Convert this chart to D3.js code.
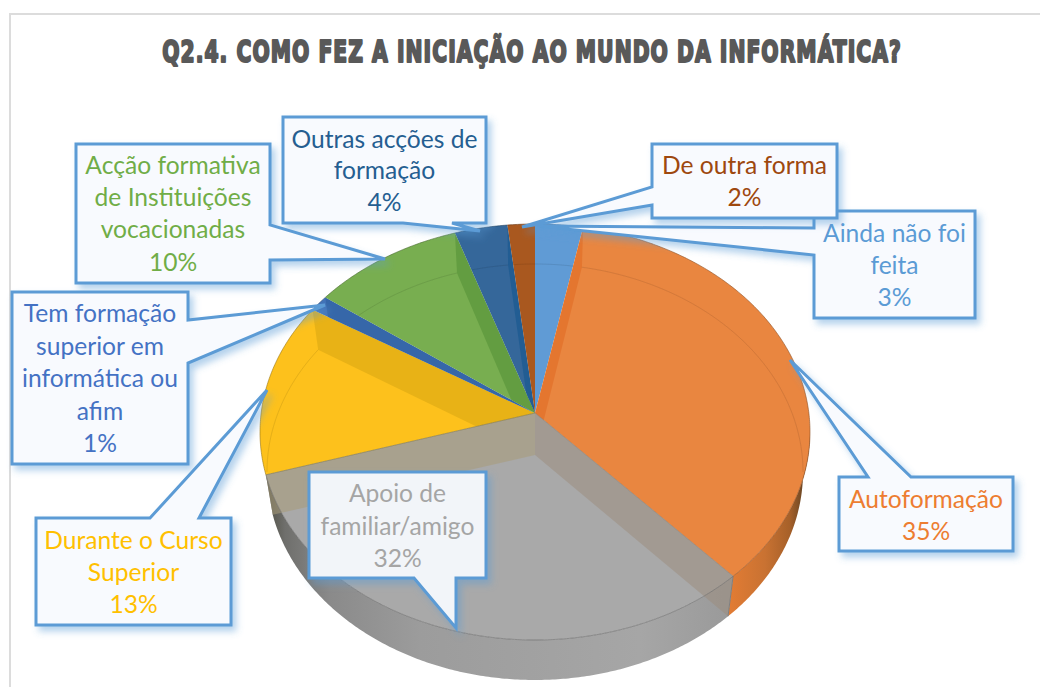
<!DOCTYPE html>
<html><head><meta charset="utf-8">
<script src="https://cdn.jsdelivr.net/npm/d3@7/dist/d3.min.js"></script>
<style>html,body{margin:0;padding:0;background:#fff;overflow:hidden}svg{display:block}</style>
</head><body><svg id="c" width="1040" height="687"></svg>
<script>
const chartTitle = "Q2.4. COMO FEZ A INICIAÇÃO AO MUNDO DA INFORMÁTICA?";
const categories = ["Ainda não foi feita","Autoformação","Apoio de familiar/amigo","Durante o Curso Superior","Tem formação superior em informática ou afim","Acção formativa de Instituições vocacionadas","Outras acções de formação","De outra forma"];
const percentLabels = [3,35,32,13,1,10,4,2];
// apparent share of the ellipse each slice occupies in the tilted picture
const apparentShares = [2.8,34.4,34.5,13.3,1.2,9.1,3.1,1.6];
const labelLines = [["Ainda não foi","feita"],["Autoformação"],["Apoio de","familiar/amigo"],["Durante o Curso","Superior"],["Tem formação","superior em","informática ou","afim"],["Acção formativa","de Instituições","vocacionadas"],["Outras acções de","formação"],["De outra forma"]];
const faceColors = ["#609bd5","#e98640","#a9a9a9","#fdc11c","#4273b8","#78ae50","#35679a","#a9581f"];
const textColors = ["#5b9bd5","#ed7d31","#a5a5a5","#ffc000","#4472c4","#70ad47","#255e91","#9e480e"];

const svg = d3.select("#c");
const defs = svg.append("defs");
const shadow = defs.append("filter").attr("id","sh").attr("x","-20%").attr("y","-20%").attr("width","150%").attr("height","150%");
shadow.append("feDropShadow").attr("dx",4).attr("dy",5).attr("stdDeviation",3.5).attr("flood-color","#5b9bd5").attr("flood-opacity",.45);
function grad(id,stops){const g=defs.append("linearGradient").attr("id",id).attr("gradientUnits","userSpaceOnUse").attr("x1",260).attr("x2",810).attr("y1",0).attr("y2",0);
  stops.forEach(([x,c])=>g.append("stop").attr("offset",(x-260)/550).attr("stop-color",c));}
grad("wallGray",[[266,"#4f4f45"],[285,"#6f6f6c"],[330,"#8a8a8a"],[420,"#9c9c9c"],[640,"#a6a6a6"],[730,"#9a9a9a"]]);
grad("wallOrange",[[729,"#e27c34"],[765,"#c97232"],[790,"#a66029"],[806,"#5f4123"]]);

// frame
svg.append("path").attr("d","M1040 14H10V687").attr("fill","none").attr("stroke","#dcdcdc").attr("stroke-width",2);

// title: heavy condensed look, fitted to the reference's width
const titleEl=svg.append("text").attr("text-anchor","middle")
  .attr("font-family","'DejaVu Sans',sans-serif").attr("font-weight",700).attr("font-size",30).attr("letter-spacing",1.5)
  .attr("fill","#595959").attr("stroke","#595959").attr("stroke-width",2.2).attr("stroke-linejoin","round").text(chartTitle);
titleEl.attr("transform",`translate(532,62) scale(${740/titleEl.node().getComputedTextLength()},1)`);

// pie geometry
const cx=535, topE={cy:432,rx:275,ry:208}, floorE={cy:472,rx:268,ry:208};
const apexTop=[cx,413], apexFloor=[cx,455];
const pt=(e,a)=>[cx+e.rx*Math.sin(a), e.cy-e.ry*Math.cos(a)];
const arcPts=(e,a0,a1)=>{const n=Math.max(2,Math.ceil(Math.abs(a1-a0)/0.01));return d3.range(n+1).map(i=>pt(e,a0+(a1-a0)*i/n));};
const line=d3.line();
const closed=p=>line(p)+"Z";
const slices=d3.pie().sort(null).startAngle(0).endAngle(2*Math.PI)(apparentShares);
const RAD=Math.PI/180;

// outer walls of front slices
const orange=slices[1], gray=slices[2];
svg.append("path").attr("d",closed([...arcPts(topE,90*RAD,orange.endAngle),...arcPts(floorE,orange.endAngle,90*RAD)])).attr("fill","url(#wallOrange)");
svg.append("path").attr("d",closed([...arcPts(topE,gray.startAngle,gray.endAngle),...arcPts(floorE,gray.endAngle,gray.startAngle)])).attr("fill","url(#wallGray)");

// top faces
const sectorPath=d=>closed([apexTop,...arcPts(topE,d.startAngle,d.endAngle)]);
svg.append("g").selectAll("path").data(slices).join("path").attr("d",sectorPath).attr("fill",(d,i)=>faceColors[i]);
slices.forEach((d,i)=>defs.append("clipPath").attr("id","cl"+i).append("path").attr("d",sectorPath(d)));

// see-through radial walls: boundary at the end of slice `after`, shading slice `on` (-1 = not clipped)
const wallStyles=[
 {after:0,on:1,fill:"#e2702a",op:.75},
 {after:1,on:-1,fill:"#9c8c7c",op:.5},
 {after:2,on:-1,fill:"#a89a78",op:.55},
 {after:3,on:3,fill:"#c99c10",op:.4},
 {after:4,on:4,fill:"#2f5f9e",op:.6},
 {after:5,on:5,fill:"#5f9a3e",op:.85},
 {after:6,on:6,fill:"#1f5c92",op:.85}
];
wallStyles.forEach(w=>{
  const a=slices[w.after].endAngle;
  const p=svg.append("path").attr("d",closed([apexTop,pt(topE,a),pt(floorE,a),apexFloor])).attr("fill",w.fill).attr("fill-opacity",w.op);
  if(w.on>=0)p.attr("clip-path",`url(#cl${w.on})`);
});
// boundary of the near wall corner
svg.append("path").attr("d",line([pt(topE,gray.startAngle),pt(floorE,gray.startAngle)])).attr("stroke","#7f7f7f").attr("stroke-width",1).attr("fill","none");

// floor rim seen through the translucent faces
slices.forEach((d,i)=>{
  if(i===2)return;
  let a0=d.startAngle,a1=d.endAngle;
  if(i===1)a1=90*RAD;
  if(i===3)a0=270*RAD;
  svg.append("path").attr("d",line(arcPts(floorE,a0,a1))).attr("fill","none").attr("stroke",d3.color(faceColors[i]).darker(1)).attr("stroke-opacity",.3).attr("stroke-width",1).attr("clip-path",`url(#cl${i})`);
});
// top rim hairlines
slices.forEach((d,i)=>{
  svg.append("path").attr("d",line(arcPts(topE,d.startAngle,d.endAngle))).attr("fill","none").attr("stroke",d3.color(faceColors[i]).darker(1.4)).attr("stroke-opacity",.6).attr("stroke-width",1);
});
svg.append("path").attr("d",line([apexTop,pt(topE,gray.endAngle)])).attr("stroke","#7d7650").attr("stroke-opacity",.6).attr("fill","none");
svg.append("path").attr("d",line([apexTop,pt(topE,gray.startAngle)])).attr("stroke","#8c7d70").attr("stroke-opacity",.6).attr("fill","none");

// data-label callouts (annotation layout)
const callouts=[
 {i:0,x:814,y:211,w:161,h:107,ty:[234,266,298],ptr:"L",p:[[228,537,226],[255]]},
 {i:7,x:652,y:144,w:185,h:74,ty:[166,198],ptr:"L",p:[[187,522,227],[205]]},
 {i:6,x:283,y:117,w:203,h:106,ty:[140,171,203],ptr:"B",p:[[452,480,231],[403]]},
 {i:5,x:76,y:144,w:194,h:139,ty:[166,198,230,263],ptr:"R",p:[[225,385,259],[260]]},
 {i:4,x:12,y:292,w:176,h:172,ty:[314,347,379,412,444],ptr:"R",p:[[320,325,305],[363]]},
 {i:3,x:36,y:518,w:195,h:107,ty:[541,573,605],ptr:"T",p:[[150,267,390],[199]]},
 {i:2,x:309,y:472,w:177,h:106,ty:[494,527,559],ptr:"B",p:[[456,456,628],[414]]},
 {i:1,x:839,y:477,w:174,h:74,ty:[500,532],ptr:"T",p:[[868,790,360],[911]]}
];
function boxPath(c){
  const {x,y,w,h}=c,r=x+w,b=y+h,[[s,tx,ty],[e]]=c.p;
  if(c.ptr==="T")return `M${x} ${y}H${s}L${tx} ${ty}L${e} ${y}H${r}V${b}H${x}Z`;
  if(c.ptr==="R")return `M${x} ${y}H${r}V${s}L${tx} ${ty}L${r} ${e}V${b}H${x}Z`;
  if(c.ptr==="B")return `M${x} ${y}H${r}V${b}H${s}L${tx} ${ty}L${e} ${b}H${x}Z`;
  return `M${x} ${y}H${r}V${b}H${x}V${e}L${tx} ${ty}L${x} ${s}Z`;
}
callouts.forEach(c=>{
  const g=svg.append("g");
  g.append("path").attr("d",boxPath(c)).attr("fill",c.i===2?"#f2f5f9":"#f8fafe").attr("stroke","#5b9bd5").attr("stroke-width",3).attr("stroke-linejoin","miter").attr("filter","url(#sh)");
  const lines=[...labelLines[c.i],percentLabels[c.i]+"%"];
  g.selectAll("text").data(lines).join("text").attr("x",c.x+c.w/2).attr("y",(d,k)=>c.ty[k]-1).attr("dy","0.35em").attr("text-anchor","middle")
   .attr("font-family","Lato,'Open Sans',sans-serif").attr("font-size",24.6).attr("fill",textColors[c.i]).text(d=>d);
});
</script></body></html>
